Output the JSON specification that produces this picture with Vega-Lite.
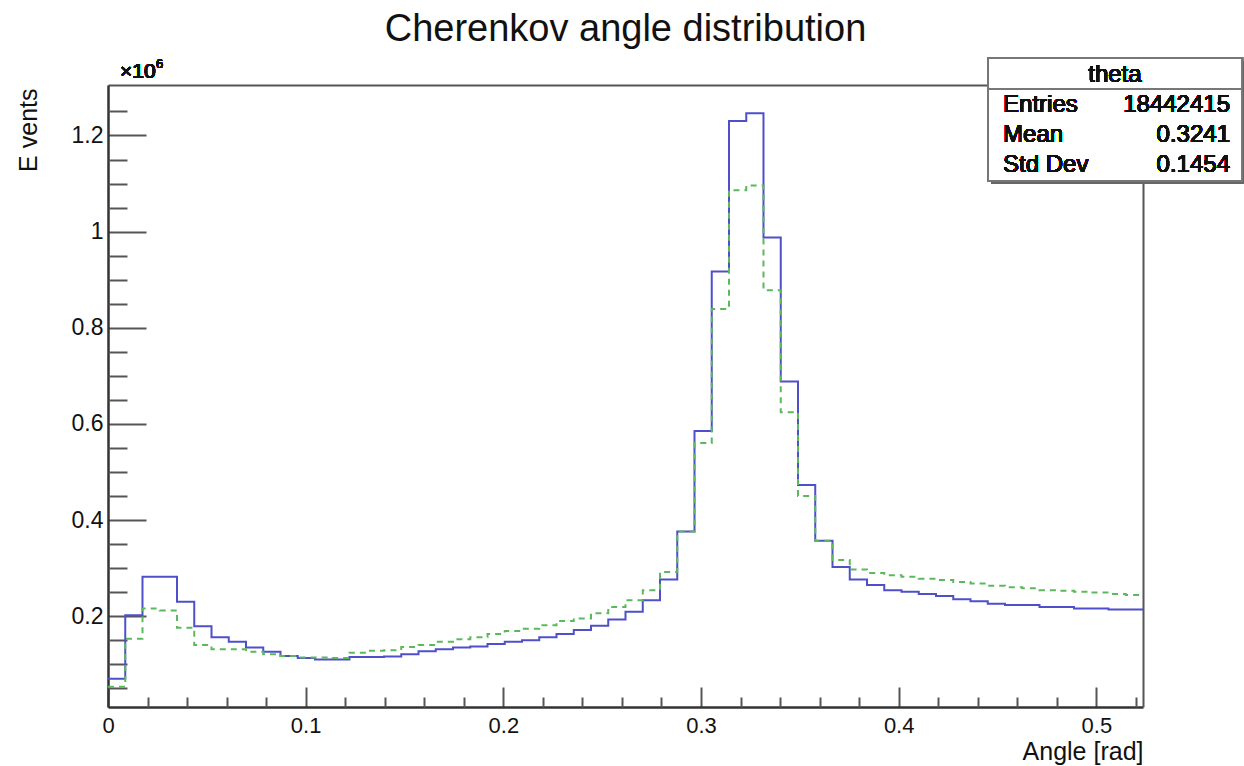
{
  "$schema": "https://vega.github.io/schema/vega-lite/v6.json",
  "autosize": {"type": "none"},
  "padding": {"left": 108, "top": 85, "right": 101, "bottom": 59},
  "width": 1035,
  "height": 622,
  "background": "white",
  "title": {"text": "Cherenkov angle distribution", "font": "Liberation Sans", "fontSize": 38, "fontWeight": "normal", "color": "#111", "anchor": "middle", "frame": "group", "baseline": "alphabetic", "offset": -22},
  "config": {
    "view": {"stroke": null},
    "axis": {"grid": false, "labelFont": "Liberation Sans", "titleFont": "Liberation Sans", "labelColor": "#111", "titleColor": "#111", "labelFlush": false, "labelOverlap": false, "labelBound": false}
  },
  "data": {"values": [
    {"x": 0, "a": 0.070, "b": 0.053},
    {"x": 0.00873, "a": 0.202, "b": 0.153},
    {"x": 0.01745, "a": 0.282, "b": 0.216},
    {"x": 0.02618, "a": 0.282, "b": 0.212},
    {"x": 0.03491, "a": 0.230, "b": 0.176},
    {"x": 0.04363, "a": 0.179, "b": 0.140},
    {"x": 0.05236, "a": 0.156, "b": 0.131},
    {"x": 0.06109, "a": 0.147, "b": 0.131},
    {"x": 0.06981, "a": 0.135, "b": 0.126},
    {"x": 0.07854, "a": 0.126, "b": 0.121},
    {"x": 0.08727, "a": 0.117, "b": 0.117},
    {"x": 0.09599, "a": 0.113, "b": 0.114},
    {"x": 0.10472, "a": 0.110, "b": 0.114},
    {"x": 0.11345, "a": 0.110, "b": 0.113},
    {"x": 0.12217, "a": 0.115, "b": 0.124},
    {"x": 0.13090, "a": 0.115, "b": 0.128},
    {"x": 0.13963, "a": 0.116, "b": 0.129},
    {"x": 0.14835, "a": 0.121, "b": 0.136},
    {"x": 0.15708, "a": 0.127, "b": 0.140},
    {"x": 0.16581, "a": 0.131, "b": 0.147},
    {"x": 0.17453, "a": 0.135, "b": 0.152},
    {"x": 0.18326, "a": 0.137, "b": 0.156},
    {"x": 0.19199, "a": 0.142, "b": 0.163},
    {"x": 0.20071, "a": 0.147, "b": 0.169},
    {"x": 0.20944, "a": 0.150, "b": 0.174},
    {"x": 0.21817, "a": 0.156, "b": 0.181},
    {"x": 0.22689, "a": 0.163, "b": 0.190},
    {"x": 0.23562, "a": 0.171, "b": 0.195},
    {"x": 0.24435, "a": 0.180, "b": 0.206},
    {"x": 0.25307, "a": 0.193, "b": 0.219},
    {"x": 0.26180, "a": 0.209, "b": 0.233},
    {"x": 0.27053, "a": 0.233, "b": 0.254},
    {"x": 0.27925, "a": 0.276, "b": 0.292},
    {"x": 0.28798, "a": 0.376, "b": 0.376},
    {"x": 0.29671, "a": 0.585, "b": 0.560},
    {"x": 0.30543, "a": 0.917, "b": 0.839},
    {"x": 0.31416, "a": 1.230, "b": 1.086},
    {"x": 0.32289, "a": 1.246, "b": 1.096},
    {"x": 0.33161, "a": 0.988, "b": 0.878},
    {"x": 0.34034, "a": 0.688, "b": 0.624},
    {"x": 0.34907, "a": 0.473, "b": 0.450},
    {"x": 0.35779, "a": 0.357, "b": 0.357},
    {"x": 0.36652, "a": 0.302, "b": 0.317},
    {"x": 0.37525, "a": 0.276, "b": 0.297},
    {"x": 0.38397, "a": 0.265, "b": 0.290},
    {"x": 0.39270, "a": 0.254, "b": 0.285},
    {"x": 0.40143, "a": 0.251, "b": 0.282},
    {"x": 0.41015, "a": 0.246, "b": 0.278},
    {"x": 0.41888, "a": 0.242, "b": 0.275},
    {"x": 0.42761, "a": 0.235, "b": 0.271},
    {"x": 0.43633, "a": 0.231, "b": 0.268},
    {"x": 0.44506, "a": 0.226, "b": 0.263},
    {"x": 0.45379, "a": 0.223, "b": 0.260},
    {"x": 0.46251, "a": 0.223, "b": 0.258},
    {"x": 0.47124, "a": 0.219, "b": 0.254},
    {"x": 0.47997, "a": 0.219, "b": 0.253},
    {"x": 0.48869, "a": 0.216, "b": 0.251},
    {"x": 0.49742, "a": 0.216, "b": 0.249},
    {"x": 0.50615, "a": 0.214, "b": 0.246},
    {"x": 0.51487, "a": 0.214, "b": 0.244},
    {"x": 0.52360, "a": 0.214, "b": 0.244}
  ]},
  "resolve": {"axis": {"x": "independent", "y": "independent"}},
  "layer": [
    {
      "mark": {"type": "line", "interpolate": "step-after", "color": "#4f4fcc", "strokeWidth": 2},
      "encoding": {
        "x": {"field": "x", "type": "quantitative", "scale": {"domain": [0, 0.5236], "nice": false, "zero": false},
          "axis": {"orient": "bottom", "values": [0, 0.1, 0.2, 0.3, 0.4, 0.5], "format": "~g", "tickSize": -20, "tickWidth": 2, "tickColor": "#555", "labelPadding": 28, "labelFontSize": 22, "domainColor": "#333", "domainWidth": 2.5,
            "title": "Angle [rad]", "titleFontSize": 25, "titleFontWeight": "normal", "titleAnchor": "end", "titleAlign": "right", "titleBaseline": "alphabetic", "titleX": 1035, "titleY": 52}},
        "y": {"field": "a", "type": "quantitative", "scale": {"domain": [0.011, 1.305], "nice": false, "zero": false},
          "axis": {"orient": "left", "values": [0.2, 0.4, 0.6, 0.8, 1, 1.2], "format": "~g", "tickSize": -38, "tickWidth": 2, "tickColor": "#555", "labelPadding": 43, "labelFontSize": 23, "domainColor": "#333", "domainWidth": 2.5,
            "title": "E vents", "titleFontSize": 25, "titleFontWeight": "normal", "titleAngle": 270, "titleAlign": "right", "titleBaseline": "alphabetic", "titleX": -72, "titleY": 3}}
      }
    },
    {
      "mark": {"type": "line", "interpolate": "step-after", "color": "#5cb85c", "strokeWidth": 2, "strokeDash": [6, 5]},
      "encoding": {
        "x": {"field": "x", "type": "quantitative",
          "axis": {"orient": "bottom", "values": [0.02, 0.04, 0.06, 0.08, 0.12, 0.14, 0.16, 0.18, 0.22, 0.24, 0.26, 0.28, 0.32, 0.34, 0.36, 0.38, 0.42, 0.44, 0.46, 0.48, 0.52], "tickSize": -10, "tickWidth": 2, "tickColor": "#555", "labels": false, "domain": false, "title": null}},
        "y": {"field": "b", "type": "quantitative",
          "axis": {"orient": "left", "values": [0.05, 0.1, 0.15, 0.25, 0.3, 0.35, 0.45, 0.5, 0.55, 0.65, 0.7, 0.75, 0.85, 0.9, 0.95, 1.05, 1.1, 1.15, 1.25], "tickSize": -19, "tickWidth": 2, "tickColor": "#555", "labels": false, "domain": false, "title": null}}
      }
    },
    {
      "mark": {"type": "rect", "fill": "#666", "xOffset": 3, "x2Offset": 3, "yOffset": 3, "y2Offset": 3},
      "encoding": {
        "x": {"datum": 0.4452, "type": "quantitative", "axis": {"orient": "top", "domain": true, "domainColor": "#555", "domainWidth": 2, "ticks": false, "labels": false, "title": null}},
        "x2": {"datum": 0.5737},
        "y": {"datum": 1.3612, "type": "quantitative", "axis": {"orient": "right", "domain": true, "domainColor": "#555", "domainWidth": 2, "ticks": false, "labels": false, "title": null}},
        "y2": {"datum": 1.1053}
      }
    },
    {
      "mark": {"type": "rect", "fill": "white", "stroke": "#777", "strokeWidth": 2},
      "encoding": {
        "x": {"datum": 0.4452, "type": "quantitative", "axis": null},
        "x2": {"datum": 0.5737},
        "y": {"datum": 1.3612, "type": "quantitative", "axis": null},
        "y2": {"datum": 1.1053}
      }
    },
    {
      "mark": {"type": "rule", "stroke": "#777", "strokeWidth": 2},
      "encoding": {
        "x": {"datum": 0.4452, "type": "quantitative", "axis": null},
        "x2": {"datum": 0.5737},
        "y": {"datum": 1.2967, "type": "quantitative", "axis": null}
      }
    },
    {
      "mark": {"type": "text", "text": "theta", "font": "Liberation Sans", "fontSize": 24, "fontWeight": "normal", "fill": "#111", "align": "center", "baseline": "alphabetic"},
      "encoding": {
        "x": {"datum": 0.5094, "type": "quantitative", "axis": null},
        "y": {"datum": 1.3112, "type": "quantitative", "axis": null}
      }
    },
    {
      "mark": {"type": "text", "text": ["Entries", "Mean", "Std Dev"], "lineHeight": 30, "font": "Liberation Sans", "fontSize": 24, "fontWeight": "normal", "fill": "#111", "align": "left", "baseline": "alphabetic"},
      "encoding": {
        "x": {"datum": 0.4528, "type": "quantitative", "axis": null},
        "y": {"datum": 1.2495, "type": "quantitative", "axis": null}
      }
    },
    {
      "mark": {"type": "text", "text": ["18442415", "0.3241", "0.1454"], "lineHeight": 30, "font": "Liberation Sans", "fontSize": 24, "fontWeight": "normal", "fill": "#111", "align": "right", "baseline": "alphabetic"},
      "encoding": {
        "x": {"datum": 0.5676, "type": "quantitative", "axis": null},
        "y": {"datum": 1.2495, "type": "quantitative", "axis": null}
      }
    },
    {
      "mark": {"type": "text", "text": "×10", "font": "Liberation Sans", "fontSize": 21, "fill": "#111", "align": "left", "baseline": "alphabetic", "dx": 12, "dy": -7},
      "encoding": {
        "x": {"datum": 0, "type": "quantitative", "axis": null},
        "y": {"datum": 1.305, "type": "quantitative", "axis": null}
      }
    },
    {
      "mark": {"type": "text", "text": "6", "font": "Liberation Sans", "fontSize": 13, "fill": "#111", "align": "left", "baseline": "alphabetic", "dx": 48, "dy": -17},
      "encoding": {
        "x": {"datum": 0, "type": "quantitative", "axis": null},
        "y": {"datum": 1.305, "type": "quantitative", "axis": null}
      }
    }
  ]
}
